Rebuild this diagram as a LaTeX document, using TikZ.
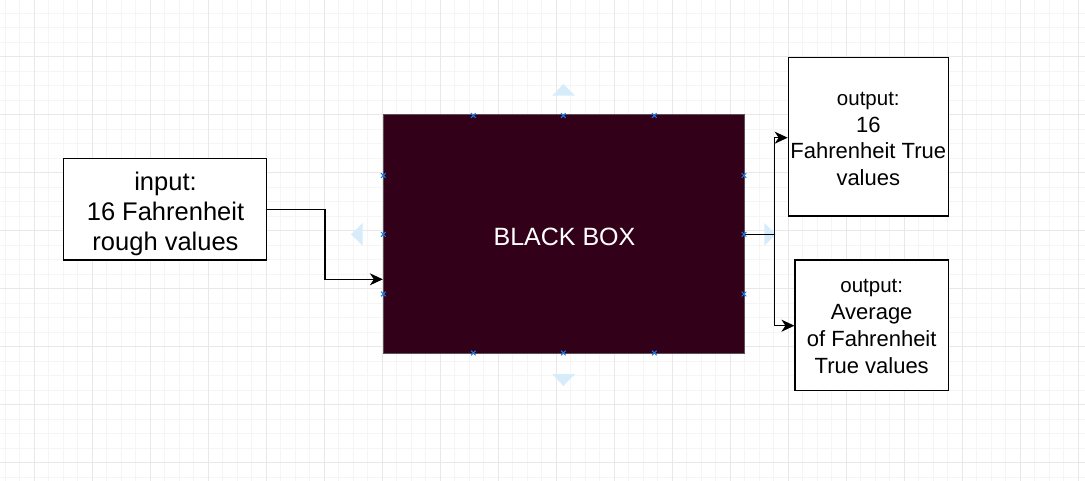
\documentclass[tikz,border=0pt]{standalone}
\usepackage{fontspec}
\setmainfont{Liberation Sans}
\usetikzlibrary{arrows.meta}
\definecolor{gridminor}{HTML}{F5F5F5}
\definecolor{gridmajor}{HTML}{E8E8E8}
\definecolor{bbfill}{HTML}{33001A}
\definecolor{bbedge}{HTML}{5E4E57}
\definecolor{hoverblue}{HTML}{D6ECFB}
\definecolor{markblue}{HTML}{1A7AE8}
\tikzset{
  minorline/.style={draw=gridminor, line width=0.8pt},
  majorline/.style={draw=gridmajor, line width=1pt},
  whitebox/.style={draw=black, fill=white, line width=1.2pt, inner sep=0pt},
  boxtext/.style={inner sep=0pt, align=center},
  blackbox/.style={draw=bbedge, fill=bbfill, line width=1pt, inner sep=0pt},
  bbtext/.style={inner sep=0pt, text=white, font=\fontsize{25}{30}\selectfont},
  conn/.style={draw=black, line width=1.4pt, -{Stealth[length=13pt,width=12pt,inset=4pt]}},
  plainconn/.style={draw=black, line width=1.4pt},
  hover/.style={fill=hoverblue},
  marker/.style={draw=markblue, line width=1pt},
}
\newcommand\connx[2]{\draw[marker] (#1,#2) ++(-2.3,-2.3) -- ++(4.6,4.6) ++(-4.6,0) -- ++(4.6,-4.6);}
\begin{document}
\begin{tikzpicture}[x=1pt,y=-1pt]
\useasboundingbox (0,0) rectangle (1085,481);
\clip (0,0) rectangle (1085,481);
\fill[white] (0,0) rectangle (1085,481);
% grid
\foreach \i in {0,...,75} \draw[minorline] ({5.3+14.5*\i},0) -- ++(0,481);
\foreach \i in {0,...,33} \draw[minorline] (0,{13.0+14.5*\i}) -- ++(1085,0);
\foreach \i in {0,...,18} \draw[majorline] ({34.3+58*\i},0) -- ++(0,481);
\foreach \i in {0,...,7} \draw[majorline] (0,{56.5+58*\i}) -- ++(1085,0);
% nodes
\node[whitebox, minimum width=203.4pt, minimum height=101.7pt] (in) at (165,209.2) {};
\node[boxtext, font=\fontsize{25.5}{30}\selectfont] (intext) at (165.5,213.5)
  {input:\\16 Fahrenheit\\rough values};
\node[blackbox, minimum width=360.7pt, minimum height=238pt] (bb) at (563.7,234) {};
\node[bbtext] (bbtext) at (564.5,237) {BLACK BOX};
\node[whitebox, minimum width=160pt, minimum height=158.7pt] (o1) at (868.3,136.7) {};
\node[boxtext, font=\fontsize{22}{26.5}\selectfont] (o1text) at (868.3,138.8)
  {{\fontsize{20.5}{26.5}\selectfont output:}\\16\\Fahrenheit True\\values};
\node[whitebox, minimum width=153.3pt, minimum height=130.7pt] (o2) at (871.7,325.3) {};
\node[boxtext, font=\fontsize{22}{26.7}\selectfont] (o2text) at (871.7,326.5)
  {{\fontsize{20.5}{26.7}\selectfont output:}\\Average\\of Fahrenheit\\True values};
% hover arrows
\fill[hover] (552.3,95.7) -- (563.3,84) -- (575,95.7) -- cycle;
\fill[hover] (552.3,374) -- (563.3,386) -- (575,374) -- cycle;
\fill[hover] (362.7,223) -- (351,234.3) -- (362.7,245.7) -- cycle;
\fill[hover] (764.3,223) -- (776,234.3) -- (764.3,245.7) -- cycle;
% connectors
\coordinate (bend) at (325,209.8);
\coordinate (j) at (774.3,234.3);
\draw[conn] (in.east |- bend) -- (bend) |- (bb.west |- 0,279.3);
\draw[plainconn] (bb.east |- j) -- (j);
\draw[conn] (j) |- (o1.west |- 0,137.7);
\draw[conn] (j) |- (o2.west |- 0,325.7);
% connection markers
\connx{473.3}{115.5}\connx{563.3}{115.5}\connx{654.3}{115.5}
\connx{473.3}{353}\connx{563.3}{353}\connx{654.3}{353}
\connx{383.3}{175.5}\connx{383.3}{234.3}\connx{383.3}{294}
\connx{744}{175.5}\connx{744}{234.3}\connx{744}{294}
\end{tikzpicture}
\end{document}
